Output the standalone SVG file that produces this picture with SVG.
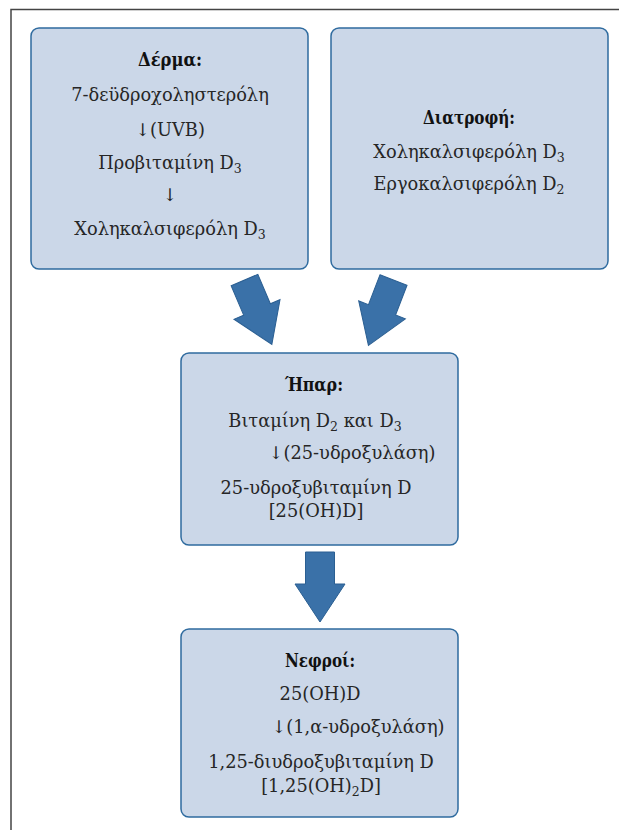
<svg xmlns="http://www.w3.org/2000/svg" width="619" height="830" viewBox="0 0 619 830">
<style>
.box{fill:#cbd7e8;stroke:#2f6b9f;stroke-width:1.5}
.t{font-family:"DejaVu Serif","Liberation Serif",serif;font-size:17.8px;fill:#262626;text-anchor:middle}
.h{font-weight:bold;fill:#111;font-size:18px}
.arr{fill:#3a71a8;stroke:#2b5f92;stroke-width:1}
.frame{fill:none;stroke:#444;stroke-width:1.5}
</style>
<defs>
<path id="blk" d="M-14.5,0 L14.5,0 L14.5,32 L25,32 L0,70 L-25,32 L-14.5,32 Z"/>
</defs>
<rect width="619" height="830" fill="#fff"/>
<path class="frame" d="M11,840 L11,9.5 L630,9.5"/>
<g id="derma">
<rect class="box" x="31" y="28" width="277" height="241" rx="8"/>
<text class="t h" x="170" y="66" textLength="64" lengthAdjust="spacingAndGlyphs">Δέρμα:</text>
<text class="t" x="170" y="101">7-δεϋδροχοληστερόλη</text>
<text class="t" x="170" y="136">↓(UVB)</text>
<text class="t" x="170" y="169">Προβιταμίνη D<tspan font-size="12.5" dy="4">3</tspan></text>
<text class="t" x="170" y="201">↓</text>
<text class="t" x="170" y="235">Χοληκαλσιφερόλη D<tspan font-size="12.5" dy="4">3</tspan></text>
</g>
<g id="diatrofi">
<rect class="box" x="331" y="28" width="277" height="241" rx="8"/>
<text class="t h" x="469" y="124" textLength="92" lengthAdjust="spacingAndGlyphs">Διατροφή:</text>
<text class="t" x="469" y="158">Χοληκαλσιφερόλη D<tspan font-size="12.5" dy="4">3</tspan></text>
<text class="t" x="469" y="190">Εργοκαλσιφερόλη D<tspan font-size="12.5" dy="4">2</tspan></text>
</g>
<g id="ipar">
<rect class="box" x="181" y="353" width="277" height="192" rx="8"/>
<text class="t h" x="314" y="391" textLength="58" lengthAdjust="spacingAndGlyphs">Ήπαρ:</text>
<text class="t" x="315" y="427">Βιταμίνη D<tspan font-size="12.5" dy="4">2</tspan><tspan dy="-4"> και D</tspan><tspan font-size="12.5" dy="4">3</tspan></text>
<text class="t" x="352" y="459">↓(25-υδροξυλάση)</text>
<text class="t" x="316" y="494">25-υδροξυβιταμίνη D</text>
<text class="t" x="316" y="517">[25(OH)D]</text>
</g>
<g id="nefroi">
<rect class="box" x="181" y="629" width="277" height="188" rx="8"/>
<text class="t h" x="320" y="667" textLength="70" lengthAdjust="spacingAndGlyphs">Νεφροί:</text>
<text class="t" x="320" y="700">25(OH)D</text>
<text class="t" x="358" y="733">↓(1,α-υδροξυλάση)</text>
<text class="t" x="321" y="768">1,25-διυδροξυβιταμίνη D</text>
<text class="t" x="321" y="792">[1,25(OH)<tspan font-size="12.5" dy="4">2</tspan><tspan dy="-4">D]</tspan></text>
</g>
<g id="connectors">
<use href="#blk" class="arr" transform="translate(244.5,280) rotate(-23)"/>
<use href="#blk" class="arr" transform="translate(393.5,280) rotate(21)"/>
<use href="#blk" class="arr" transform="translate(320,552)"/>
</g>
</svg>
